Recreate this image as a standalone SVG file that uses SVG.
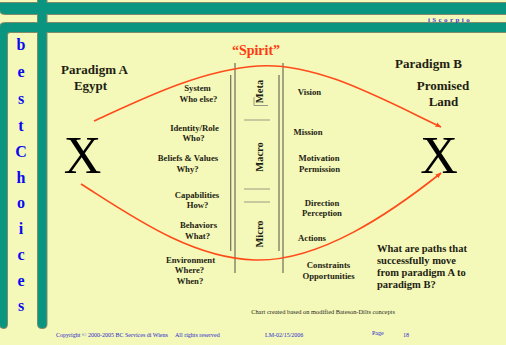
<svg xmlns="http://www.w3.org/2000/svg" width="506" height="345" viewBox="0 0 506 345">
<style>
.t{font-family:"Liberation Serif","Times New Roman",serif;font-weight:bold;fill:#1e1e14}
.lab{font-size:8.7px;text-anchor:middle}
.big{font-size:13px;text-anchor:middle}
.col{font-size:10.5px;text-anchor:middle}
.x{font-family:"Liberation Serif",serif;font-size:52px;text-anchor:middle;fill:#000}
.bc{font-family:"Liberation Serif",serif;font-weight:bold;font-size:16px;fill:#0a0af0;text-anchor:middle}
.ft{font-family:"Liberation Serif",serif;font-size:6px;fill:#2a2ad0}
.vl{stroke:#6e6e5a;stroke-width:1.2;fill:none}
.sep{stroke:#9a9a84;stroke-width:1;fill:none}
.cv{stroke:#ff4a1a;stroke-width:1.6;fill:none}
.barS{fill:none;stroke:#7f8c6c;stroke-width:2}
.barF{fill:#0a9580}
</style>
<defs>
<marker id="ah" viewBox="0 0 10 10" refX="9" refY="5" markerWidth="6" markerHeight="6" orient="auto" markerUnits="userSpaceOnUse">
<path d="M0,1 L10,5 L0,9 Z" fill="#ff4a1a"/>
</marker>
<g id="bars">
<path d="M0,3 H506 V14 H5 Q0,14 0,9 Z"/>
<path d="M0,28 Q0,23 5,23 H506 V32 H10 Q7,32 7,35 V324 Q7,328 3.5,328 Q0,328 0,324 Z"/>
<path d="M38,0 H46.5 V324 Q46.5,328 42.25,328 Q38,328 38,324 Z"/>
</g>
</defs>
<rect width="506" height="345" fill="#f4f8b8"/>
<g id="frame">
<use href="#bars" class="barS"/>
<use href="#bars" class="barF"/>
</g>
<text x="450" y="21.5" style="font-family:'Liberation Serif',serif;font-weight:bold;font-size:7px;letter-spacing:2.4px;fill:#3a3ad8;text-anchor:middle">iScorpio</text>
<g id="bestchoices">
<text class="bc" x="21" y="50">b</text>
<text class="bc" x="21" y="77">e</text>
<text class="bc" x="21" y="104">s</text>
<text class="bc" x="21" y="131">t</text>
<text class="bc" x="21" y="157">C</text>
<text class="bc" x="21" y="183">h</text>
<text class="bc" x="21" y="208">o</text>
<text class="bc" x="21" y="234">i</text>
<text class="bc" x="21" y="260">c</text>
<text class="bc" x="21" y="286">e</text>
<text class="bc" x="21" y="311">s</text>
</g>
<g id="paradigmA">
<text class="t big" x="94.5" y="74">Paradigm A</text>
<text class="t big" x="90.5" y="90">Egypt</text>
<text class="x" x="82.5" y="173">X</text>
</g>
<g id="paradigmB">
<text class="t big" x="428.5" y="68">Paradigm B</text>
<text class="t big" x="443" y="90">Promised</text>
<text class="t big" x="443.5" y="106">Land</text>
<text class="x" x="439" y="173">X</text>
</g>
<g id="spirit">
<text x="256" y="55" style="font-family:'Liberation Serif',serif;font-weight:bold;font-size:14px;fill:#ff3a10;text-anchor:middle">“Spirit”</text>
</g>
<g id="column">
<line class="vl" x1="230.7" y1="75" x2="230.7" y2="251"/>
<line class="vl" x1="235" y1="63" x2="235" y2="273"/>
<line class="vl" x1="279" y1="75" x2="279" y2="251"/>
<line class="vl" x1="283" y1="63" x2="283" y2="273"/>
<line class="sep" x1="244" y1="120" x2="270" y2="120"/>
<line class="sep" x1="244" y1="189" x2="270" y2="189"/>
<line class="sep" x1="244" y1="202" x2="270" y2="202"/>
<path class="sep" d="M254,97 V105.5 H268"/>
<text class="t col" transform="translate(262.5,91.5) rotate(-90)">Meta</text>
<text class="t col" transform="translate(262.5,157) rotate(-90)">Macro</text>
<text class="t col" transform="translate(262.5,234) rotate(-90)">Micro</text>
</g>
<g id="leftLabels">
<text class="t lab" x="197.5" y="91">System</text>
<text class="t lab" x="198.5" y="101.5">Who else?</text>
<text class="t lab" x="194.5" y="130.5">Identity/Role</text>
<text class="t lab" x="193.5" y="141">Who?</text>
<text class="t lab" x="188" y="161">Beliefs &amp; Values</text>
<text class="t lab" x="187.5" y="171.5">Why?</text>
<text class="t lab" x="197" y="197.5">Capabilities</text>
<text class="t lab" x="197.5" y="208">How?</text>
<text class="t lab" x="198.5" y="227.5">Behaviors</text>
<text class="t lab" x="197.5" y="238.5">What?</text>
<text class="t lab" x="190.5" y="262.5">Environment</text>
<text class="t lab" x="189.5" y="273">Where?</text>
<text class="t lab" x="190" y="284">When?</text>
</g>
<g id="rightLabels">
<text class="t lab" x="309.5" y="95">Vision</text>
<text class="t lab" x="308" y="134.5">Mission</text>
<text class="t lab" x="319" y="161">Motivation</text>
<text class="t lab" x="319.5" y="171.5">Permission</text>
<text class="t lab" x="322" y="205.5">Direction</text>
<text class="t lab" x="322" y="216">Perception</text>
<text class="t lab" x="312" y="241">Actions</text>
<text class="t lab" x="328.5" y="268">Constraints</text>
<text class="t lab" x="328.5" y="278.5">Opportunities</text>
</g>
<g id="question">
<text class="t" style="font-size:10.5px" x="377">
<tspan x="377" y="252">What are paths that</tspan>
<tspan x="377" y="264">successfully move</tspan>
<tspan x="377" y="276">from paradigm A to</tspan>
<tspan x="377" y="288">paradigm B?</tspan>
</text>
</g>
<g id="connectors">
<path class="cv" marker-end="url(#ah)" d="M94,121 C140,100 200,70 258,66 S380,98 441,127"/>
<path class="cv" marker-end="url(#ah)" d="M81,184 C130,215 190,258 255,260 S392,212 441,173"/>
</g>
<g id="footer">
<text x="323" y="314" style="font-family:'Liberation Serif',serif;font-size:6.4px;fill:#2a2a1e;text-anchor:middle">Chart created based on modified Bateson-Dilts concepts</text>
<text class="ft" x="56" y="337">Copyright © 2000-2005 BC Services di Wiens</text>
<text class="ft" x="175" y="337">All rights reserved</text>
<text class="ft" x="265" y="337">LM-02/15/2006</text>
<text class="ft" x="372" y="334.5">Page</text>
<text class="ft" x="403" y="336.5">18</text>
</g>
</svg>
